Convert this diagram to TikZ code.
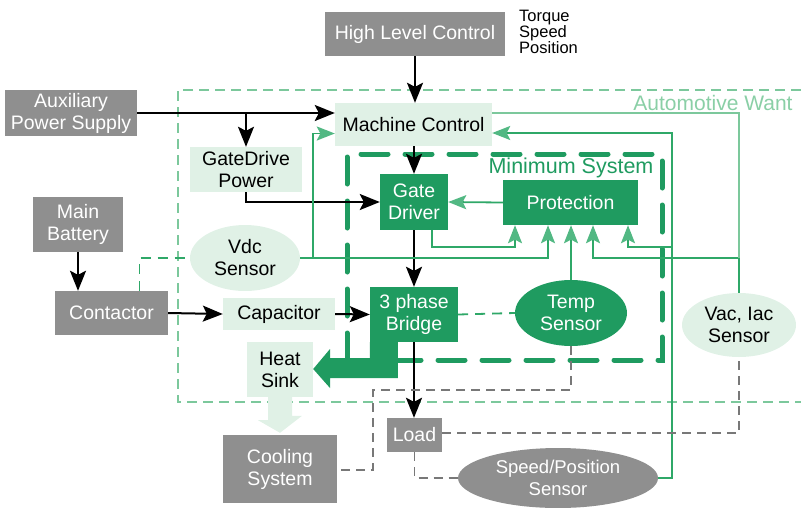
\documentclass[tikz,border=0pt]{standalone}
\usepackage{fontspec}
\setmainfont{Liberation Sans}
\usetikzlibrary{arrows.meta,shapes.geometric}
\definecolor{darkgrn}{HTML}{1F9B60}
\definecolor{linegrn}{HTML}{2FA868}
\definecolor{tipgrn}{HTML}{52B883}
\definecolor{palegrn}{HTML}{E0F1E6}
\definecolor{wantgrn}{HTML}{7CC89C}
\definecolor{wanttxt}{HTML}{8ACFA6}
\definecolor{boxgray}{HTML}{8F8F8F}
\definecolor{dashgray}{HTML}{787878}
\begin{document}
\begin{tikzpicture}[x=1pt,y=-1pt,
  txt/.style={font=\fontsize{19.5}{22}\selectfont, align=center, inner sep=0pt},
  graybox/.style={txt, rectangle, fill=boxgray, text=white},
  palebox/.style={txt, rectangle, fill=palegrn, text=black},
  darkbox/.style={txt, rectangle, fill=darkgrn, text=white},
  blkarrow/.style={line width=2pt, -{Stealth[length=20pt,width=16pt,inset=4pt]}},
  grnline/.style={line width=1.8pt, draw=linegrn},
  grnarrow/.style={grnline, -{Stealth[length=18pt,width=14pt,inset=3.5pt,color=tipgrn]}},
  thingrn/.style={line width=1.1pt, draw=wantgrn},
  wantframe/.style={line width=1.2pt, draw=wantgrn, dash pattern=on 10pt off 6pt},
  minframe/.style={line width=5pt, draw=darkgrn, line cap=round, dash pattern=on 27pt off 17pt},
  grndash/.style={line width=1.8pt, draw=linegrn, dash pattern=on 10pt off 7pt},
  graydash/.style={line width=1.4pt, draw=dashgray, dash pattern=on 9pt off 6pt},
]
\useasboundingbox (0,0) rectangle (801,507);

% outer frame: automotive requirements
\draw[wantframe] (801,90) -- (178,90) -- (178,402) -- (801,402);
\node[txt, font=\fontsize{21}{24}\selectfont, text=wanttxt] (want) at (713,103) {Automotive Want};

% inner frame: minimum system
\draw[minframe] (347,360) -- (347,154) -- (662,154) -- (662,360) -- cycle;
\node[txt, font=\fontsize{21.5}{24}\selectfont, text=darkgrn] (minsys) at (571,168) {Minimum System};

% blocks
\node[graybox, minimum width=180pt, minimum height=44pt] (hlc) at (415,34) {High Level Control};
\node[anchor=west, align=left, inner sep=0pt, font=\fontsize{16.5}{16}\selectfont] (tsp) at (519,32) {Torque\\Speed\\Position};
\node[graybox, minimum width=132pt, minimum height=46pt] (aux) at (71,113) {Auxiliary\\Power Supply};
\node[palebox, minimum width=157pt, minimum height=43pt] (mc) at (413.5,124.5) {Machine Control};
\node[palebox, minimum width=112pt, minimum height=45pt] (gdp) at (246,169.5) {GateDrive\\Power};
\node[darkbox, minimum width=68pt, minimum height=56pt] (gd) at (414,202) {Gate\\Driver};
\node[darkbox, minimum width=135pt, minimum height=45pt] (prot) at (570.5,202.5) {Protection};
\node[graybox, minimum width=90pt, minimum height=55pt] (mb) at (78,224.5) {Main\\Battery};
\node[palebox, ellipse, minimum width=110pt, minimum height=66pt] (vdc) at (245,258) {Vdc\\Sensor};
\node[graybox, minimum width=113pt, minimum height=44pt] (ct) at (111.5,313) {Contactor};
\node[palebox, minimum width=112pt, minimum height=32pt] (cap) at (279,314) {Capacitor};
\node[darkbox, minimum width=88pt, minimum height=55pt] (br) at (414,314.5) {3 phase\\Bridge};
\node[darkbox, ellipse, minimum width=112pt, minimum height=66pt] (temp) at (571,313) {Temp\\Sensor};
\node[palebox, ellipse, minimum width=114pt, minimum height=64pt] (vac) at (739,325) {Vac, Iac\\Sensor};
\node[palebox, minimum width=66pt, minimum height=55pt] (hs) at (280,369.5) {Heat\\Sink};
\node[graybox, minimum width=55pt, minimum height=34pt] (load) at (414.5,435) {Load};
\node[graybox, minimum width=114pt, minimum height=68pt] (cool) at (280,469) {Cooling\\System};
\node[graybox, ellipse, minimum width=200pt, minimum height=60pt, font=\fontsize{18.5}{22}\selectfont] (speed) at (558,478) {Speed/Position\\Sensor};

% heat path from the bridge into the heat sink
\fill[darkgrn] (br.south west) -- ++(28,0) -- ++(0,36) -- (330,378) -- (330,388) -- (hs.east |- 0,369) -- (330,349) -- (330,358) -- ([yshift=-16pt]br.south west) -- cycle;
% heat sink to cooling system
\fill[palegrn] ([xshift=-12pt]hs.south) -- ++(0,23) -- ++(-10,0) -- ([yshift=2pt]cool.north) -- ++(22,-17) -- ++(-10,0) -- ([xshift=12pt]hs.south) -- cycle;

% power and control flow
\draw[blkarrow] (hlc.south) -- (hlc.south |- mc.north);
\draw[blkarrow] (aux.east) -- (aux.east -| mc.west);
\draw[blkarrow] (aux.east -| gdp.north) -- (gdp.north);
\draw[blkarrow] (gdp.south) |- (gd.west);
\draw[blkarrow] (gd.north |- mc.south) -- (gd.north);
\draw[blkarrow] (gd.south) -- (br.north);
\draw[blkarrow] (br.south) -- (br.south |- load.north);
\draw[blkarrow] (mb.south) -- (mb.south |- ct.north);
\draw[blkarrow] (ct.east) -- (cap.west);
\draw[blkarrow] (cap.east) -- (br.west);

% sensing and protection signals
\coordinate (gdtap) at ([xshift=18pt]gd.south);
\coordinate (gdbend) at (432,247);
\coordinate (vdcjoin) at (313,258);
\coordinate (vdcbend) at (548,258);
\coordinate (vacjoin) at (739,258);
\coordinate (vactop) at (739,113);
\coordinate (vacbend) at (593,258);
\coordinate (spdbot) at (672,478);
\coordinate (spdtap) at (672,247);
\coordinate (spdtop) at (672,133);

\draw[grnarrow] (prot.west) -- (gd.east);
\draw[grnarrow] (gdtap) -- (gdbend) -| ([xshift=-55.5pt]prot.south);
\draw[grnarrow] (vdc.east) -- (vdcbend) -- (vdcbend |- prot.south);
\draw[grnarrow] (vdcjoin) |- ([yshift=-9pt]mc.west);
\draw[grnarrow] (temp.north) -- (temp.north |- prot.south);
\draw[grnline] (vac.north) -- (vacjoin);
\draw[grnarrow] (vacjoin) -- (vacbend) -- (vacbend |- prot.south);
\draw[thingrn] (vacjoin) -- (vactop) -- (vactop -| mc.east);
\draw[grnarrow] (speed.east) -- (spdbot) -- (spdtop) -- (spdtop -| mc.east);
\draw[grnarrow] (spdtap) -| ([xshift=57.5pt]prot.south);

% dashed links
\draw[grndash] ([xshift=28pt]ct.north) |- (vdc.west);
\draw[grndash] (br.east) -- (temp.west);
\draw[graydash] (temp.south) -- (571,390) -- (373,390) |- (cool.east |- 0,470);
\draw[graydash] ([yshift=2pt]load.east) -| (vac.south);
\draw[graydash] (load.south) |- (speed.west);
\end{tikzpicture}
\end{document}
